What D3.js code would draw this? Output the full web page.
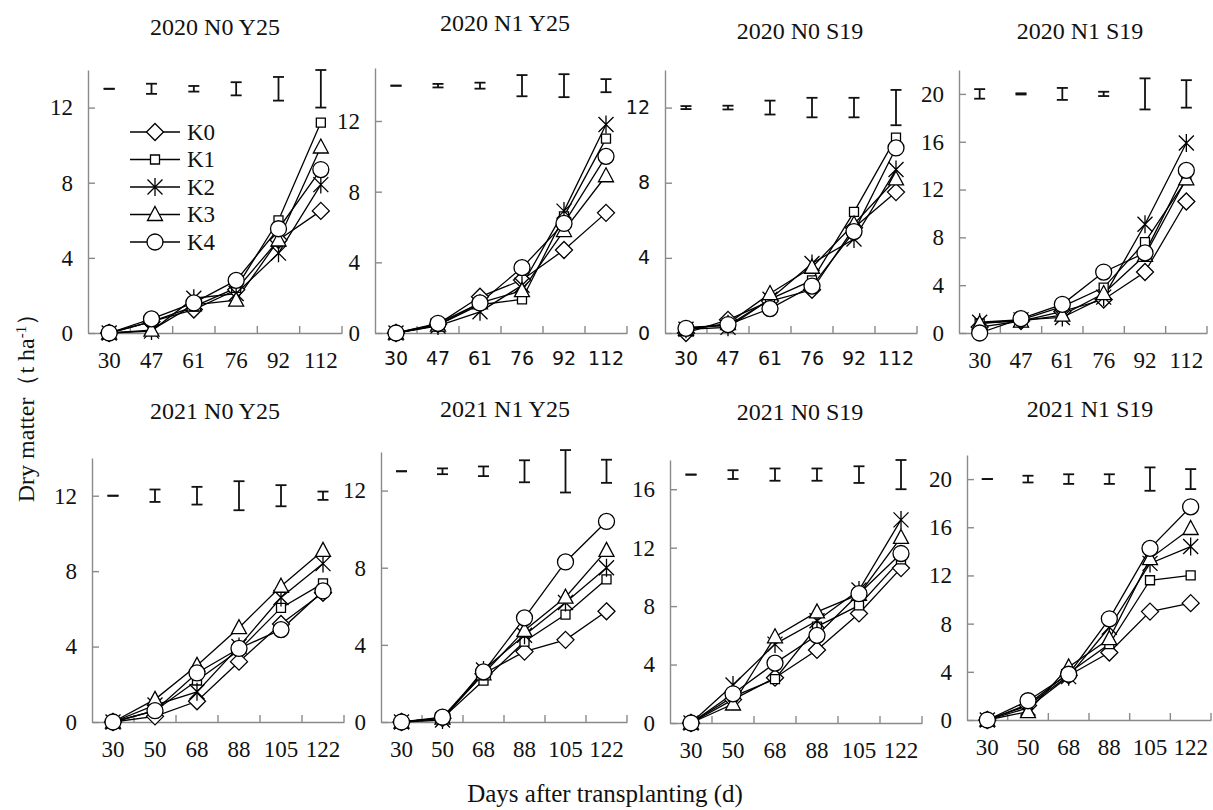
<!DOCTYPE html>
<html><head><meta charset="utf-8">
<script src="https://cdn.jsdelivr.net/npm/d3@7/dist/d3.min.js"></script>
<style>
html,body{margin:0;padding:0;background:#fff;}
svg{display:block;}
</style></head>
<body>
<svg id="chart" width="1213" height="810"></svg>
<script>
// ---------------- DATA ----------------
const days2020 = ["30","47","61","76","92","112"];
const days2021 = ["30","50","68","88","105","122"];
const treatments = ["K0","K1","K2","K3","K4"];

// Dry matter (t ha-1); rows = K0..K4
const dm2020_N0_Y25 = [
  [0, 0.6, 1.25, 2.3, 4.95, 6.5],
  [0, 0.6, 1.4, 2.4, 6.0, 11.2],
  [0, 0.1, 1.85, 2.1, 4.25, 7.9],
  [0, 0.15, 1.5, 1.75, 4.95, 9.9],
  [0, 0.75, 1.6, 2.8, 5.55, 8.7]
];
const err2020_N0_Y25 = [0, 0.27, 0.15, 0.35, 0.63, 1.0];

const dm2020_N1_Y25 = [
  [0, 0.5, 2.05, 3.0, 4.7, 6.8],
  [0, 0.45, 1.6, 1.9, 6.6, 11.0],
  [0, 0.4, 1.2, 2.7, 6.9, 11.8],
  [0, 0.45, 1.7, 2.4, 5.8, 8.9],
  [0, 0.55, 1.7, 3.7, 6.2, 10.0]
];
const err2020_N1_Y25 = [0, 0.1, 0.17, 0.6, 0.65, 0.37];

const dm2020_N0_S19 = [
  [0.0, 0.7, 1.7, 2.3, 5.6, 7.5],
  [0.3, 0.4, 1.8, 2.8, 6.45, 10.4],
  [0.2, 0.3, 1.8, 3.7, 5.0, 8.7],
  [0.2, 0.5, 2.1, 3.5, 5.8, 8.2],
  [0.25, 0.45, 1.3, 2.5, 5.4, 9.85]
];
const err2020_N0_S19 = [0.08, 0.1, 0.37, 0.52, 0.52, 0.94];

const dm2020_N1_S19 = [
  [0.5, 1.0, 1.8, 2.8, 5.1, 11.0],
  [0.8, 1.1, 2.2, 3.8, 7.6, 12.8],
  [0.9, 1.1, 1.3, 3.0, 9.1, 15.9],
  [0.8, 1.0, 1.5, 3.3, 6.5, 12.9],
  [0.0, 1.2, 2.4, 5.1, 6.7, 13.6]
];
const err2020_N1_S19 = [0.4, 0.05, 0.5, 0.18, 1.3, 1.15];

const dm2021_N0_Y25 = [
  [0, 0.3, 1.1, 3.2, 5.2, 6.85],
  [0, 0.6, 2.2, 3.8, 6.05, 7.35],
  [0, 0.9, 1.6, 4.0, 6.6, 8.4],
  [0, 1.2, 3.0, 5.0, 7.2, 9.1],
  [0, 0.6, 2.6, 3.9, 4.9, 6.95]
];
const err2021_N0_Y25 = [0, 0.33, 0.47, 0.77, 0.56, 0.22];

const dm2021_N1_Y25 = [
  [0, 0.2, 2.5, 3.65, 4.26, 5.74],
  [0, 0.2, 2.15, 4.17, 5.57, 7.4],
  [0, 0.1, 2.7, 4.5, 6.2, 8.0],
  [0, 0.2, 2.5, 4.75, 6.47, 8.9],
  [0, 0.25, 2.6, 5.4, 8.3, 10.4]
];
const err2021_N1_Y25 = [0, 0.15, 0.25, 0.57, 1.1, 0.6];

const dm2021_N0_S19 = [
  [0, 1.6, 3.1, 5.0, 7.5, 10.6],
  [0, 1.8, 3.0, 6.6, 8.05, 11.2],
  [0, 2.6, 5.4, 7.0, 9.1, 13.9],
  [0, 1.3, 5.9, 7.6, 8.8, 12.7],
  [0, 2.0, 4.1, 6.0, 8.85, 11.6]
];
const err2021_N0_S19 = [0, 0.3, 0.42, 0.42, 0.57, 1.0];

const dm2021_N1_S19 = [
  [0, 1.2, 3.7, 5.6, 9.0, 9.7],
  [0, 1.3, 3.9, 6.3, 11.6, 12.0],
  [0, 1.0, 3.6, 7.7, 13.0, 14.4],
  [0, 0.7, 4.4, 6.75, 13.4, 15.9],
  [0, 1.6, 3.8, 8.4, 14.25, 17.7]
];
const err2021_N1_S19 = [0, 0.28, 0.4, 0.4, 0.97, 0.83];

const titles = ["2020 N0 Y25","2020 N1 Y25","2020 N0 S19","2020 N1 S19",
                "2021 N0 Y25","2021 N1 Y25","2021 N0 S19","2021 N1 S19"];
const yMax = [14, 15, 14, 22, 14, 14, 18, 22];
const errCenter = [13, 14, 12, 20, 12, 13, 17, 20];
const yTicks4 = [0,4,8,12];
const yTicks5 = [0,4,8,12,16];
const yTicks6 = [0,4,8,12,16,20];

// ---------------- LAYOUT ----------------
const SERIF = "'Liberation Serif','Times New Roman',serif";
const SANS = "'DejaVu Sans',Verdana,sans-serif";
const panels = [
  {title:titles[0], days:days2020, dm:dm2020_N0_Y25, err:err2020_N0_Y25, max:yMax[0], ec:errCenter[0], ticks:yTicks4,
   l:88,  r:342, b:333, t:70,  tx:215,  ty:35,  yFont:SERIF, xFont:SERIF, legend:true},
  {title:titles[1], days:days2020, dm:dm2020_N1_Y25, err:err2020_N1_Y25, max:yMax[1], ec:errCenter[1], ticks:yTicks4,
   l:375, r:627, b:333, t:68,  tx:505,  ty:31,  yFont:SERIF, xFont:SANS},
  {title:titles[2], days:days2020, dm:dm2020_N0_S19, err:err2020_N0_S19, max:yMax[2], ec:errCenter[2], ticks:yTicks4,
   l:665, r:917, b:333, t:70,  tx:800,  ty:39,  yFont:SANS, xFont:SANS},
  {title:titles[3], days:days2020, dm:dm2020_N1_S19, err:err2020_N1_S19, max:yMax[3], ec:errCenter[3], ticks:yTicks6,
   l:959, r:1207, b:333, t:70, tx:1080, ty:39,  yFont:SERIF, xFont:SERIF},
  {title:titles[4], days:days2021, dm:dm2021_N0_Y25, err:err2021_N0_Y25, max:yMax[4], ec:errCenter[4], ticks:yTicks4,
   l:92,  r:344, b:722, t:458, tx:215,  ty:419, yFont:SERIF, xFont:SERIF},
  {title:titles[5], days:days2021, dm:dm2021_N1_Y25, err:err2021_N1_Y25, max:yMax[5], ec:errCenter[5], ticks:yTicks4,
   l:381, r:627, b:722, t:452, tx:505,  ty:417, yFont:SERIF, xFont:SERIF},
  {title:titles[6], days:days2021, dm:dm2021_N0_S19, err:err2021_N0_S19, max:yMax[6], ec:errCenter[6], ticks:yTicks5,
   l:670, r:922, b:723, t:460, tx:800,  ty:420, yFont:SERIF, xFont:SERIF},
  {title:titles[7], days:days2021, dm:dm2021_N1_S19, err:err2021_N1_S19, max:yMax[7], ec:errCenter[7], ticks:yTicks6,
   l:967, r:1211, b:720, t:455, tx:1090, ty:417, yFont:SERIF, xFont:SERIF}
];

const AXIS = "#8a8a8a";
const INK = "#111";

// marker path generators (centered at 0,0)
function markerPath(k){
  switch(k){
    case 0: { const h=8.5; return `M0,${-h}L${h},0L0,${h}L${-h},0Z`; }
    case 1: { const h=4.5; return `M${-h},${-h}H${h}V${h}H${-h}Z`; }
    case 2: { const a=7.5, v=9; return `M${-a},${-a}L${a},${a}M${-a},${a}L${a},${-a}M0,${-v}V${v}`; }
    case 3: { const w=7.5, hu=8, hd=6; return `M0,${-hu}L${w},${hd}H${-w}Z`; }
    case 4: { const r=8; return `M${r},0A${r},${r} 0 1,1 ${-r},0A${r},${r} 0 1,1 ${r},0Z`; }
  }
}

const svg = d3.select("#chart");

panels.forEach(p => {
  const g = svg.append("g");
  const x = d3.scaleBand().domain(p.days).range([p.l, p.r]).paddingInner(0).paddingOuter(0);
  const y = d3.scaleLinear().domain([0, p.max]).range([p.b, p.t]);
  const cx = d => x(d) + x.bandwidth()/2;

  // title
  g.append("text").attr("x", p.tx).attr("y", p.ty).attr("text-anchor","middle")
    .attr("font-family", SERIF).attr("font-size", 24).attr("fill", INK).text(p.title);

  // y axis
  const ya = g.append("g").attr("transform", `translate(${p.l},0)`)
    .call(d3.axisLeft(y).tickValues(p.ticks).tickSize(-7).tickSizeOuter(0).tickPadding(15).tickFormat(d3.format("d")));
  ya.select(".domain").attr("stroke", AXIS).attr("stroke-width", 1.4);
  ya.selectAll(".tick line").attr("stroke", AXIS).attr("stroke-width", 1.4);
  ya.selectAll(".tick text").attr("font-family", p.yFont).attr("font-size", p.yFont===SANS?19:23).attr("fill", INK);

  // x axis (labels at category centres, ticks at category boundaries)
  const xa = g.append("g").attr("transform", `translate(0,${p.b})`)
    .call(d3.axisBottom(x).tickSize(0).tickSizeOuter(0).tickPadding(19));
  xa.select(".domain").attr("stroke", AXIS).attr("stroke-width", 1.4);
  xa.selectAll(".tick text").attr("font-family", p.xFont).attr("font-size", p.xFont===SANS?19:23).attr("fill", INK);
  xa.selectAll("line.bound").data(p.days).enter().append("line").attr("class","bound")
    .attr("x1", d => x(d) + x.bandwidth()).attr("x2", d => x(d) + x.bandwidth())
    .attr("y1", 0).attr("y2", -7).attr("stroke", AXIS).attr("stroke-width", 1.4);

  // error bars near top
  const eb = g.append("g").attr("stroke", INK).attr("stroke-width", 1.8).attr("fill","none");
  p.days.forEach((d, i) => {
    const e = p.err[i];
    const y1 = y(p.ec - e), y2 = y(p.ec + e), xc = cx(d), cw = 5.5;
    eb.append("line").attr("x1", xc).attr("x2", xc).attr("y1", y1).attr("y2", y2);
    eb.append("line").attr("x1", xc-cw).attr("x2", xc+cw).attr("y1", y1).attr("y2", y1);
    eb.append("line").attr("x1", xc-cw).attr("x2", xc+cw).attr("y1", y2).attr("y2", y2);
  });

  // lines
  const line = d3.line().x((v,i) => cx(p.days[i])).y(v => y(v));
  p.dm.forEach((series, k) => {
    g.append("path").attr("d", line(series)).attr("fill","none")
      .attr("stroke", "#000").attr("stroke-width", 1.3);
  });
  // markers
  p.dm.forEach((series, k) => {
    g.selectAll(null).data(series).enter().append("path")
      .attr("d", markerPath(k))
      .attr("transform", (v,i) => `translate(${cx(p.days[i])},${y(v)})`)
      .attr("fill", k===2 ? "none" : "#fff").attr("stroke", "#000").attr("stroke-width", 1.3);
  });

  // legend
  if (p.legend){
    const lg = g.append("g");
    treatments.forEach((name, k) => {
      const yy = 132 + k*27.5;
      lg.append("line").attr("x1", 130).attr("x2", 180).attr("y1", yy).attr("y2", yy)
        .attr("stroke","#000").attr("stroke-width",1.3);
      lg.append("path").attr("d", markerPath(k)).attr("transform", `translate(155,${yy})`)
        .attr("fill", k===2 ? "none" : "#fff").attr("stroke","#000").attr("stroke-width",1.3);
      lg.append("text").attr("x", 187).attr("y", yy+7.5).attr("font-family", SERIF)
        .attr("font-size", 23).attr("fill", INK).text(name);
    });
  }
});

// shared axis titles
const yl = svg.append("text").attr("transform","translate(34,402) rotate(-90)")
  .attr("text-anchor","middle").attr("font-family", SERIF).attr("font-size", 24).attr("fill", INK);
yl.append("tspan").text("Dry matter（t ha");
yl.append("tspan").attr("baseline-shift","super").attr("font-size", 15).text("-1");
yl.append("tspan").text("）");

svg.append("text").attr("x", 605).attr("y", 802).attr("text-anchor","middle")
  .attr("font-family", SERIF).attr("font-size", 25).attr("fill", INK)
  .text("Days after transplanting (d)");
</script>
</body></html>
